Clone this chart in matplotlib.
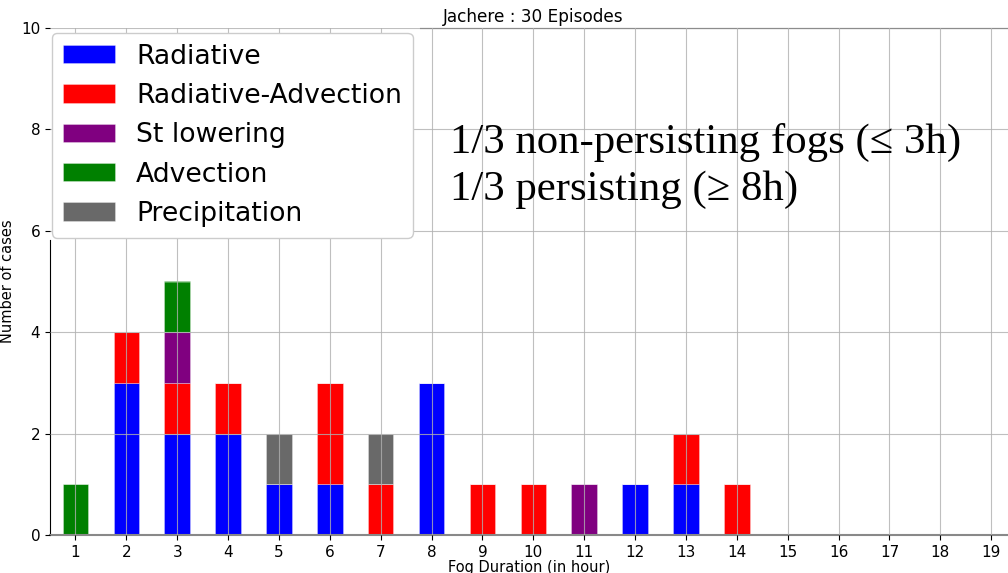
import matplotlib
matplotlib.use("Agg")
import matplotlib.pyplot as plt
import numpy as np

durations = list(range(1, 20))
radiative =      [0, 3, 2, 2, 1, 1, 0, 3, 0, 0, 0, 1, 1, 0, 0, 0, 0, 0, 0]
rad_advection =  [0, 1, 1, 1, 0, 2, 1, 0, 1, 1, 0, 0, 1, 1, 0, 0, 0, 0, 0]
st_lowering =    [0, 0, 1, 0, 0, 0, 0, 0, 0, 0, 1, 0, 0, 0, 0, 0, 0, 0, 0]
advection =      [1, 0, 1, 0, 0, 0, 0, 0, 0, 0, 0, 0, 0, 0, 0, 0, 0, 0, 0]
precipitation =  [0, 0, 0, 0, 1, 0, 1, 0, 0, 0, 0, 0, 0, 0, 0, 0, 0, 0, 0]

series = [
    ("Radiative", radiative, "blue"),
    ("Radiative-Advection", rad_advection, "red"),
    ("St lowering", st_lowering, "purple"),
    ("Advection", advection, "green"),
    ("Precipitation", precipitation, "dimgray"),
]

fig = plt.figure(figsize=(10.08, 5.73), dpi=100)
ax = fig.add_axes([50/1008, 1-535/573, (1008-50)/1008, (535-28)/573])

bottom = np.zeros(len(durations))
for name, vals, col in series:
    ax.bar(durations, vals, width=0.5, bottom=bottom, color=col, label=name,
           edgecolor=(1, 1, 1, 0.35), linewidth=0.6, zorder=2)
    bottom += np.array(vals)

ax.set_xlim(0.5, 19.33)
ax.set_ylim(0, 10)
ax.set_xticks(durations)
ax.set_yticks([0, 2, 4, 6, 8, 10])
ax.tick_params(labelsize=11)
ax.grid(True, color="#b0b0b0", linewidth=0.8, alpha=0.8, zorder=3)
ax.set_axisbelow(False)

ax.set_xlabel("Fog Duration (in hour)", fontsize=10.5, labelpad=0)
ax.set_ylabel("Number of cases", fontsize=10.5)

ax.spines["right"].set_visible(False)
ax.spines["top"].set_bounds(7.78, 19.33)
ax.spines["left"].set_bounds(0, 5.82)
ax.spines["bottom"].set_color("#888888")
ax.spines["bottom"].set_linewidth(1.5)

leg = ax.legend(loc="upper left", bbox_to_anchor=(2/958, 1-5/507), fontsize=19.2,
                handlelength=1.95, handleheight=0.68, framealpha=1.0,
                borderaxespad=0.0, labelspacing=0.5, borderpad=0.4,
                handletextpad=0.8)
leg.set_zorder(5)

ax.text(8.37, 7.53, "1/3 non-persisting fogs (\u2264 3h)", fontsize=30.8,
        family="Liberation Serif", va="baseline", ha="left", zorder=4)
ax.text(8.37, 6.61, "1/3 persisting (\u2265 8h)", fontsize=30.8,
        family="Liberation Serif", va="baseline", ha="left", zorder=4)

fig.text(443/1008, 1-22/573, "Jachere : 30 Episodes", fontsize=12.2,
         ha="left", va="baseline")

fig.savefig("out.png", dpi=100)
